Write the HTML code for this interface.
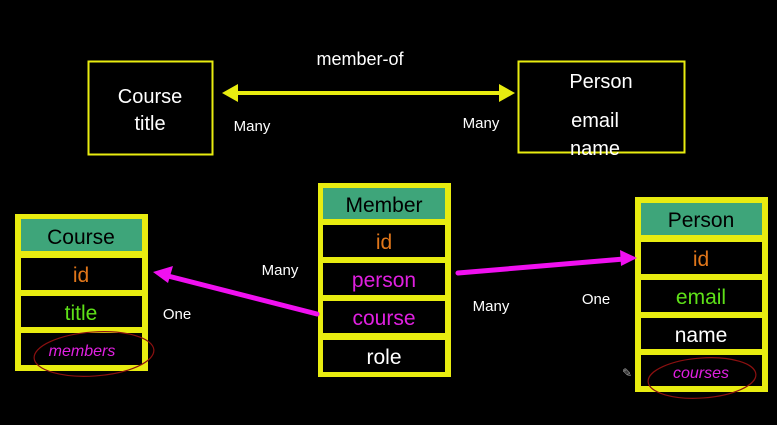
<!DOCTYPE html>
<html><head><meta charset="utf-8"><style>
html,body{margin:0;padding:0;background:#000;}
svg{display:block}
text{font-family:"Liberation Sans",sans-serif;}
</style></head><body>
<svg width="777" height="425" viewBox="0 0 777 425" xmlns="http://www.w3.org/2000/svg">
<rect width="777" height="425" fill="#000"/>
<defs>
<marker id="ya" markerWidth="6" markerHeight="6" refX="3" refY="3" orient="auto-start-reverse" markerUnits="strokeWidth"><path d="M0,0.6 L3.4,3 L0,5.4 Z" fill="#e8ec10"/></marker>
</defs>
<!-- top boxes -->
<rect x="88.5" y="61.5" width="124" height="93" fill="none" stroke="#e8ec10" stroke-width="2"/>
<text x="150" y="103" fill="#fff" font-size="20" text-anchor="middle">Course</text>
<text x="150" y="130" fill="#fff" font-size="20" text-anchor="middle">title</text>
<rect x="518.5" y="61.5" width="166" height="91" fill="none" stroke="#e8ec10" stroke-width="2"/>
<text x="601" y="88" fill="#fff" font-size="20" text-anchor="middle">Person</text>
<text x="595" y="127" fill="#fff" font-size="20" text-anchor="middle">email</text>
<text x="595" y="155" fill="#fff" font-size="20" text-anchor="middle">name</text>
<line x1="234" y1="93" x2="503" y2="93" stroke="#e8ec10" stroke-width="4"/>
<path d="M222,93 L238,84 L238,102 Z" fill="#e8ec10"/>
<path d="M515,93 L499,84 L499,102 Z" fill="#e8ec10"/>
<text x="360" y="65" fill="#fff" font-size="18" text-anchor="middle">member-of</text>
<text x="252" y="131" fill="#fff" font-size="15" text-anchor="middle">Many</text>
<text x="481" y="128" fill="#fff" font-size="15" text-anchor="middle">Many</text>

<!-- Course table -->
<rect x="15" y="214" width="133" height="157" fill="#e8ec10"/>
<rect x="21" y="219" width="121" height="32" fill="#3ea57a"/>
<rect x="21" y="258" width="121" height="32" fill="#000"/>
<rect x="21" y="296" width="121" height="31" fill="#000"/>
<rect x="21" y="333" width="121" height="32" fill="#000"/>
<text x="81" y="244" fill="#000" font-size="21" text-anchor="middle">Course</text>
<text x="81" y="282" fill="#e0761a" font-size="21" text-anchor="middle">id</text>
<text x="81" y="320" fill="#5ee018" font-size="21" text-anchor="middle">title</text>
<text x="82" y="356" fill="#e020e0" font-size="16" font-style="italic" text-anchor="middle">members</text>
<ellipse cx="94" cy="354" rx="60" ry="22" fill="none" stroke="#8b1010" stroke-width="1.2" transform="rotate(-4 94 354)"/>

<!-- Member table -->
<rect x="318" y="183" width="133" height="194" fill="#e8ec10"/>
<rect x="323" y="188" width="122" height="31" fill="#3ea57a"/>
<rect x="323" y="225" width="122" height="32" fill="#000"/>
<rect x="323" y="263" width="122" height="32" fill="#000"/>
<rect x="323" y="301" width="122" height="32" fill="#000"/>
<rect x="323" y="340" width="122" height="32" fill="#000"/>
<text x="384" y="212" fill="#000" font-size="21" text-anchor="middle">Member</text>
<text x="384" y="249" fill="#e0761a" font-size="21" text-anchor="middle">id</text>
<text x="384" y="287" fill="#e020e0" font-size="21" text-anchor="middle">person</text>
<text x="384" y="325" fill="#e020e0" font-size="21" text-anchor="middle">course</text>
<text x="384" y="364" fill="#fff" font-size="21" text-anchor="middle">role</text>

<!-- Person table -->
<rect x="635" y="197" width="133" height="195" fill="#e8ec10"/>
<rect x="641" y="203" width="121" height="32" fill="#3ea57a"/>
<rect x="641" y="242" width="121" height="32" fill="#000"/>
<rect x="641" y="280" width="121" height="32" fill="#000"/>
<rect x="641" y="318" width="121" height="31" fill="#000"/>
<rect x="641" y="355" width="121" height="31" fill="#000"/>
<text x="701" y="227" fill="#000" font-size="21" text-anchor="middle">Person</text>
<text x="701" y="266" fill="#e0761a" font-size="21" text-anchor="middle">id</text>
<text x="701" y="304" fill="#5ee018" font-size="21" text-anchor="middle">email</text>
<text x="701" y="342" fill="#fff" font-size="21" text-anchor="middle">name</text>
<text x="701" y="378" fill="#e020e0" font-size="16" font-style="italic" text-anchor="middle">courses</text>
<ellipse cx="702" cy="378" rx="54" ry="20" fill="none" stroke="#8b1010" stroke-width="1.2" transform="rotate(-4 702 378)"/>
<text x="627" y="377" fill="#aaa" font-size="12" text-anchor="middle">✎</text>

<!-- magenta arrows -->
<line x1="317" y1="314" x2="168" y2="276" stroke="#f010f0" stroke-width="5" stroke-linecap="round"/>
<path d="M153,272 L173,266 L168,283 Z" fill="#f010f0"/>
<line x1="458" y1="273" x2="624" y2="259" stroke="#f010f0" stroke-width="5" stroke-linecap="round"/>
<path d="M637,258 L620,250 L621,266 Z" fill="#f010f0"/>

<text x="280" y="275" fill="#fff" font-size="15" text-anchor="middle">Many</text>
<text x="177" y="319" fill="#fff" font-size="15" text-anchor="middle">One</text>
<text x="491" y="311" fill="#fff" font-size="15" text-anchor="middle">Many</text>
<text x="596" y="304" fill="#fff" font-size="15" text-anchor="middle">One</text>
</svg>
</body></html>
